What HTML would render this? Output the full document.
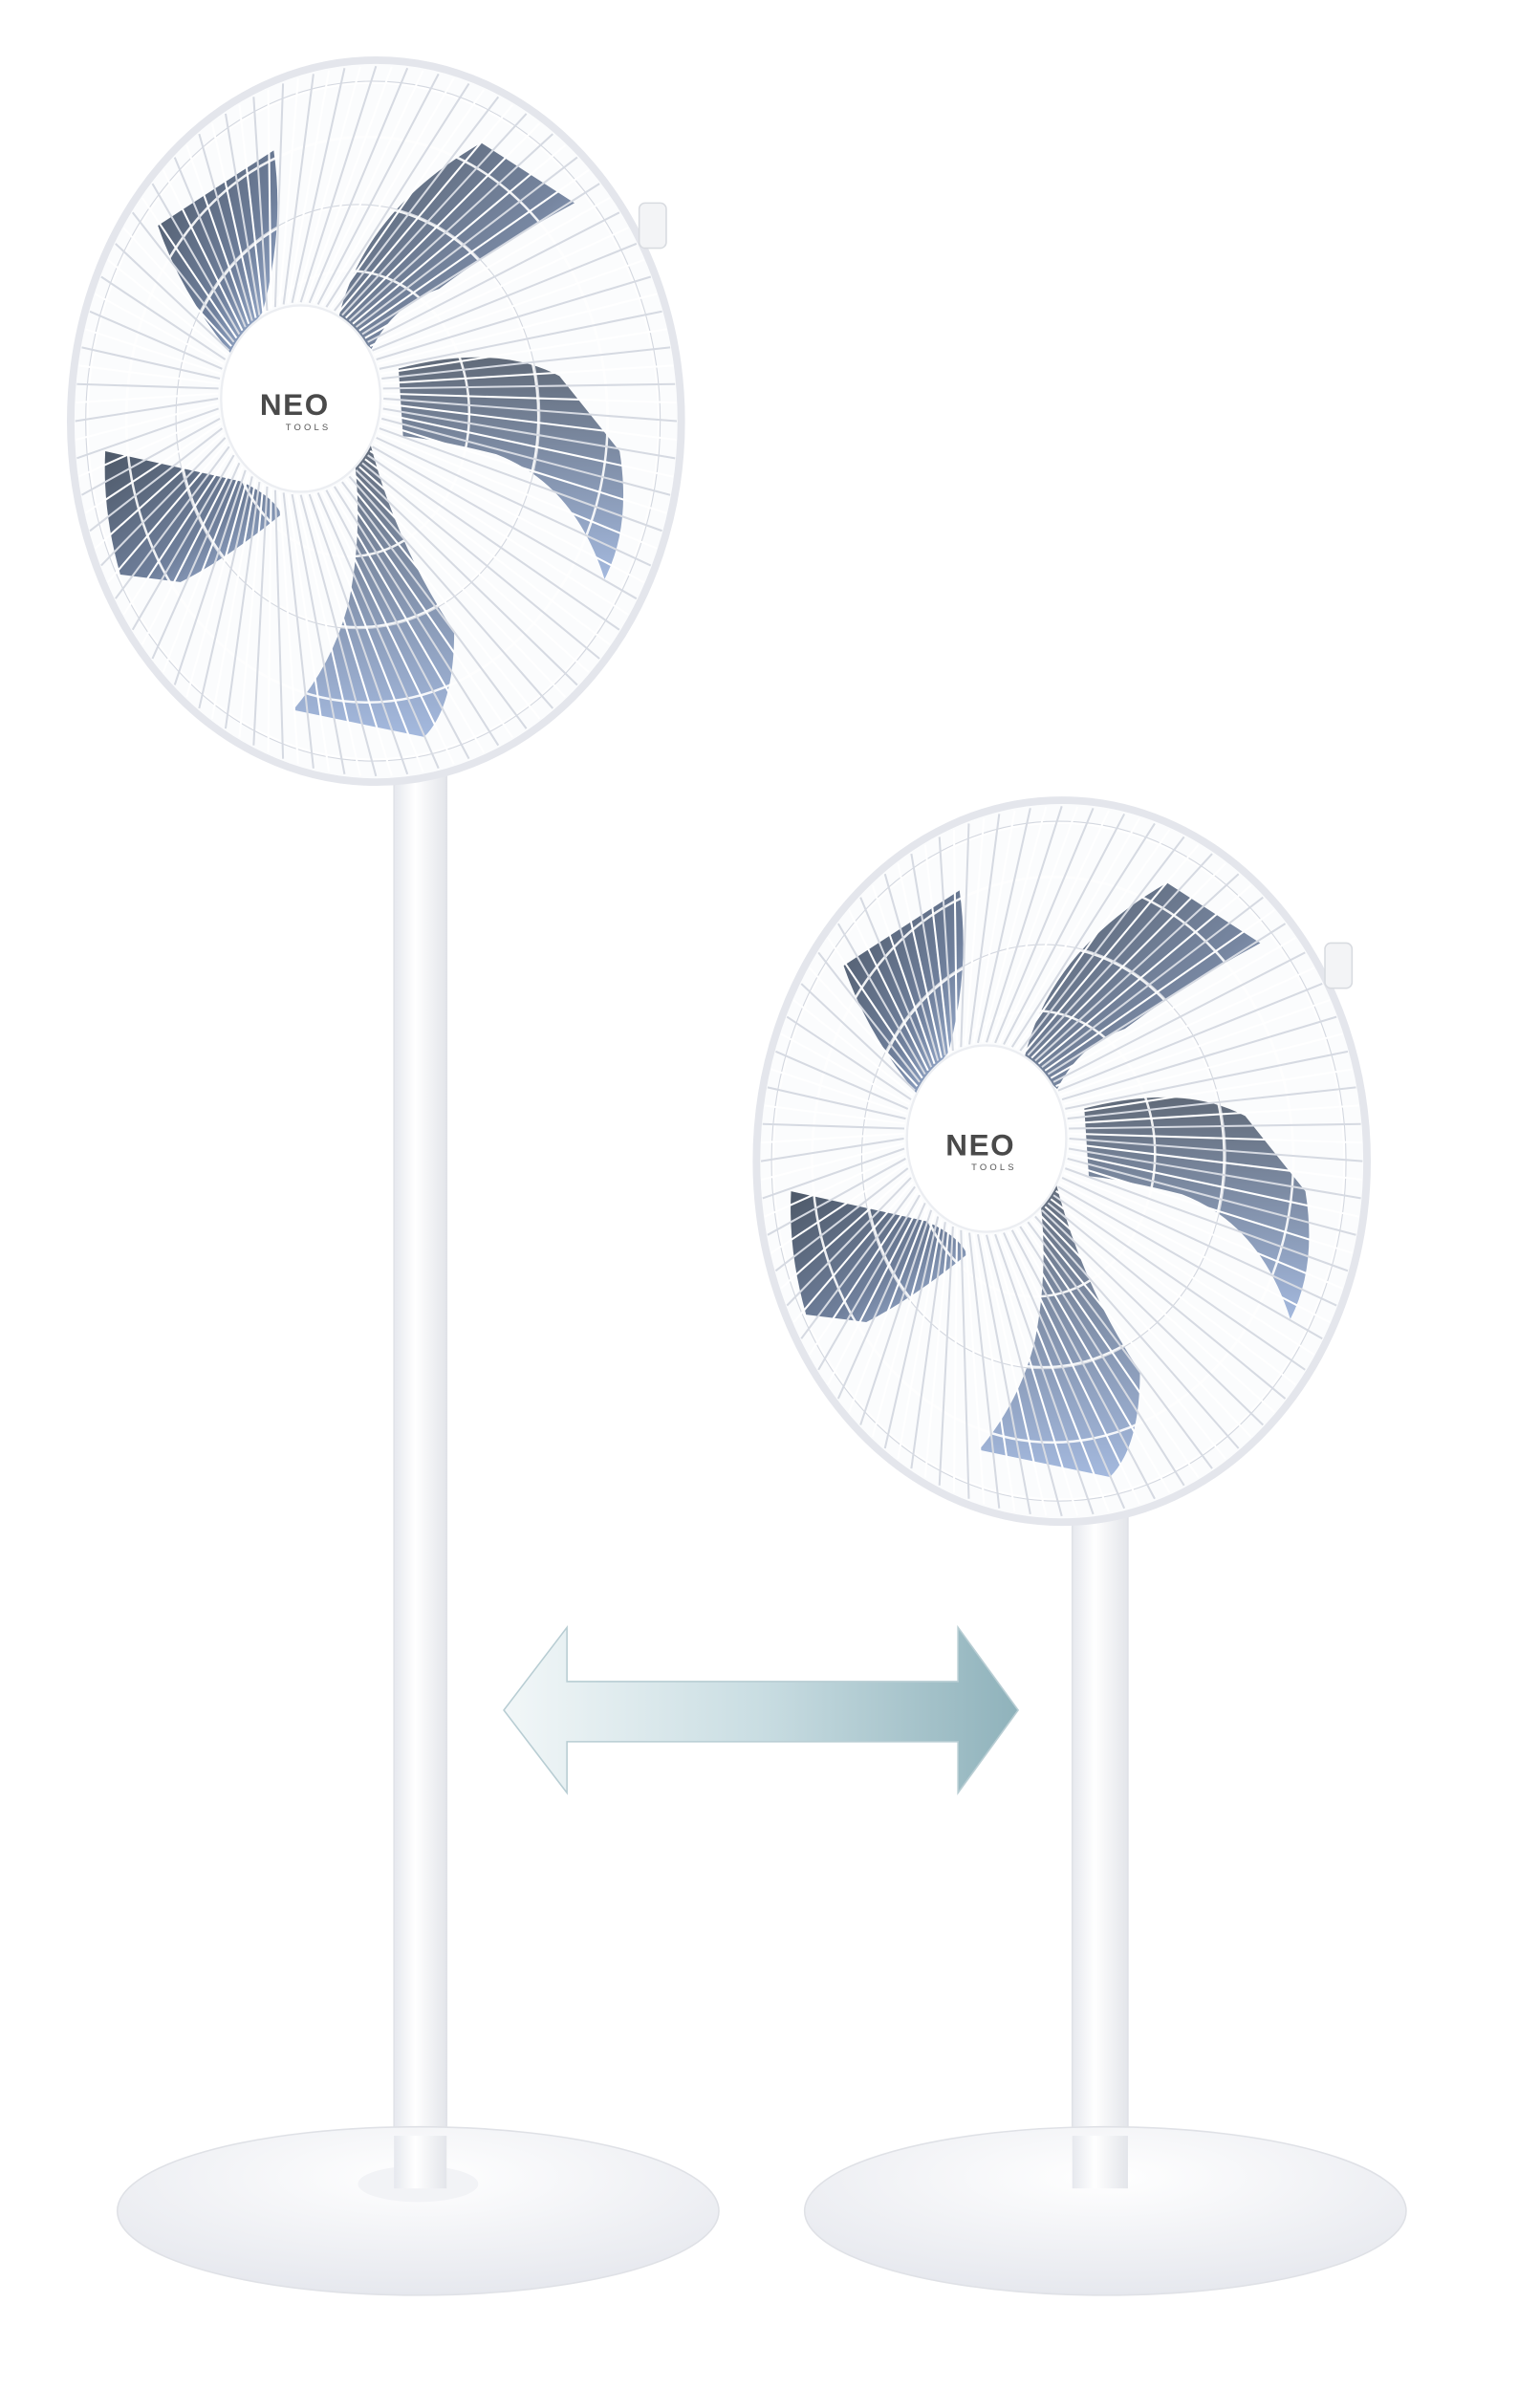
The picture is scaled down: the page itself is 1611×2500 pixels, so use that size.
<!DOCTYPE html>
<html><head><meta charset="utf-8"><style>
html,body{margin:0;padding:0;background:#fff;}
svg{display:block;}
</style></head><body>
<svg width="1611" height="2500" viewBox="0 0 1024 1589" preserveAspectRatio="none" xmlns="http://www.w3.org/2000/svg">
<defs>
<linearGradient id="bl" x1="0" y1="0" x2="1" y2="1">
<stop offset="0" stop-color="#2f3c4e"/><stop offset="0.6" stop-color="#56698a"/><stop offset="1" stop-color="#9db6e0"/></linearGradient>
<linearGradient id="bl2" x1="0" y1="0" x2="0" y2="1">
<stop offset="0" stop-color="#3a4658"/><stop offset="1" stop-color="#8ea8d6"/></linearGradient>
<linearGradient id="arr" x1="0" y1="0" x2="1" y2="0">
<stop offset="0" stop-color="#f2f7f8"/><stop offset="0.5" stop-color="#c9dde2"/><stop offset="1" stop-color="#8fb2bb"/></linearGradient>
<linearGradient id="pole" x1="0" y1="0" x2="1" y2="0">
<stop offset="0" stop-color="#e6e8ee"/><stop offset="0.4" stop-color="#ffffff"/><stop offset="1" stop-color="#e3e5ea"/></linearGradient>
<radialGradient id="base" cx="0.5" cy="0.3" r="0.7">
<stop offset="0" stop-color="#ffffff"/><stop offset="1" stop-color="#e6e8ee"/></radialGradient>
<g id="fan">
<ellipse cx="250" cy="280" rx="203" ry="240" fill="#fbfcfd" stroke="#e4e6ec" stroke-width="5"/>
<path d="M105,150 L182,100 Q192,170 162,245 Q122,200 105,150Z" fill="url(#bl)" opacity="0.85"/>
<path d="M225,212 Q242,140 320,95 L382,135 Q332,162 292,192 Q262,202 247,232Z" fill="url(#bl)" opacity="0.8"/>
<path d="M265,245 Q330,228 372,250 L412,300 Q420,350 402,385 Q382,322 330,302 Q290,292 268,290Z" fill="url(#bl2)" opacity="0.8"/>
<path d="M245,290 Q262,360 302,420 Q302,470 282,490 L195,472 Q222,440 232,400 Q242,350 235,300Z" fill="url(#bl2)" opacity="0.8"/>
<path d="M70,300 L160,320 Q182,330 187,342 Q150,372 120,387 L80,382 Q68,340 70,300Z" fill="url(#bl)" opacity="0.85"/>
<g fill="none" stroke="#ffffff" stroke-width="1.6" opacity="0.9">
<ellipse cx="232" cy="275" rx="80" ry="95"/>
<ellipse cx="238" cy="277" rx="120" ry="140"/>
<ellipse cx="244" cy="279" rx="160" ry="188"/>
<ellipse cx="248" cy="280" rx="190" ry="225"/>
</g>
<g fill="none" stroke="#d4d8e0" stroke-width="0.7">
<ellipse cx="238" cy="277" rx="121" ry="141"/>
<ellipse cx="248" cy="280" rx="191" ry="226"/>
</g>
<g stroke-width="1.3" class="rad"></g>
<ellipse cx="200" cy="265" rx="53" ry="62" fill="#ffffff" stroke="#eceef2" stroke-width="1.5"/>
<text x="196" y="276" text-anchor="middle" font-family="Liberation Sans, sans-serif" font-size="20" font-weight="bold" fill="#4a4a4a" letter-spacing="1">NEO</text>
<text x="205" y="286" text-anchor="middle" font-family="Liberation Sans, sans-serif" font-size="6" fill="#555" letter-spacing="2">TOOLS</text>
<rect x="425" y="135" width="18" height="30" rx="4" fill="#f3f4f6" stroke="#d8dbe0"/>
</g>
</defs>

<rect x="262" y="505" width="35" height="940" fill="url(#pole)" stroke="#e0e2e7"/>
<ellipse cx="278" cy="1470" rx="200" ry="56" fill="url(#base)" stroke="#dfe1e6"/>
<ellipse cx="278" cy="1452" rx="40" ry="12" fill="#f2f3f6"/>
<rect x="262" y="1420" width="35" height="35" fill="url(#pole)"/>
<use href="#fan"/>

<rect x="713" y="990" width="37" height="455" fill="url(#pole)" stroke="#e0e2e7"/>
<ellipse cx="735" cy="1470" rx="200" ry="56" fill="url(#base)" stroke="#dfe1e6"/>
<rect x="713" y="1420" width="37" height="35" fill="url(#pole)"/>
<g transform="translate(456,492)"><use href="#fan"/></g>

<path d="M335,1137 L377,1082 L377,1118 L637,1118 L637,1082 L677,1137 L637,1192 L637,1158 L377,1158 L377,1192 Z" fill="url(#arr)" stroke="#b8cdd3" stroke-width="1"/>
</svg>
<script>
var gs=document.querySelectorAll('.rad');
gs.forEach(function(g){
for(var i=0;i<120;i++){var a=i/120*Math.PI*2;
var l=document.createElementNS('http://www.w3.org/2000/svg','line');
l.setAttribute('x1',200+55*Math.cos(a));l.setAttribute('y1',265+64*Math.sin(a));
l.setAttribute('x2',250+200*Math.cos(a));l.setAttribute('y2',280+236*Math.sin(a));
l.setAttribute('stroke',i%2?'#ffffff':'#d6dae2');g.appendChild(l);}
});
</script>
</body></html>
